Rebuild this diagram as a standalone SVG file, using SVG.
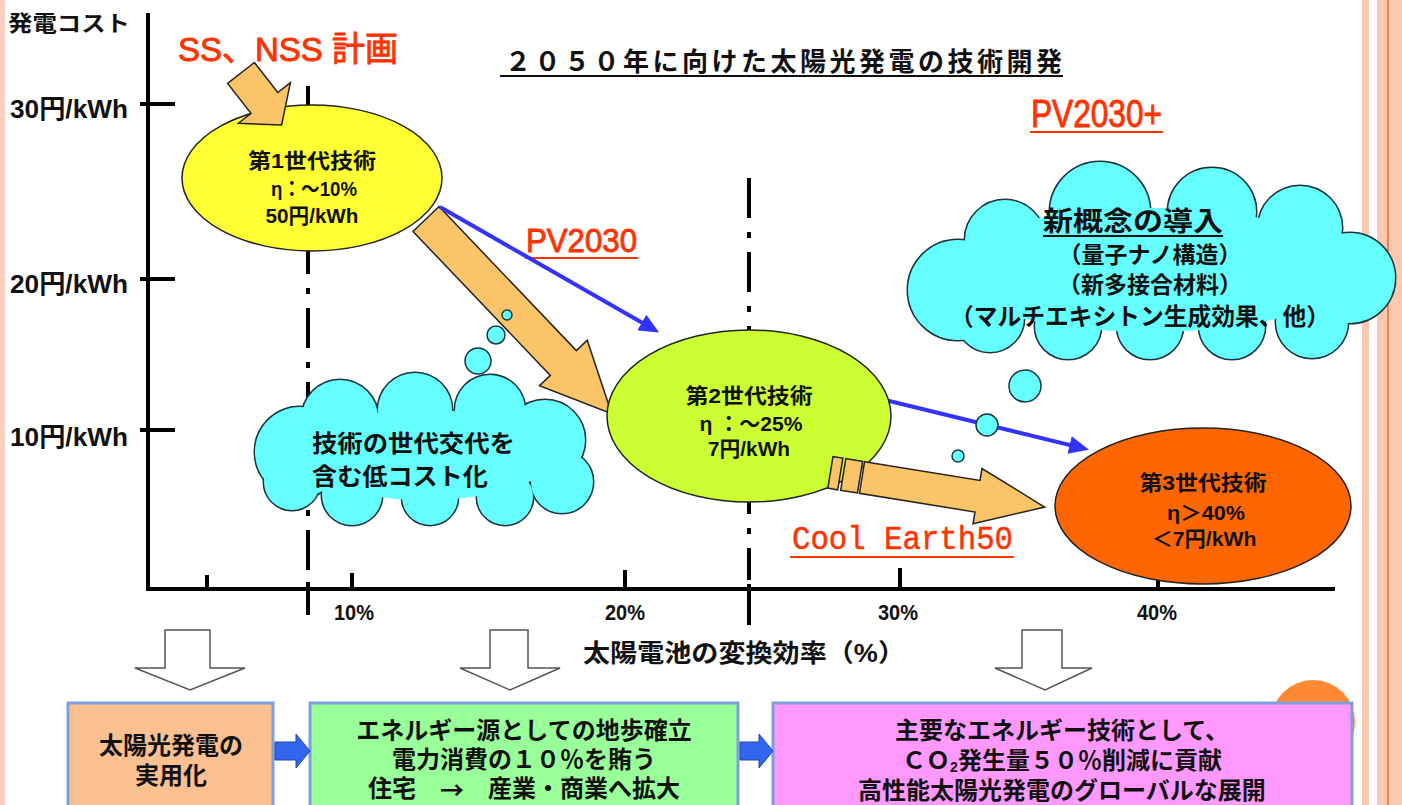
<svg xmlns="http://www.w3.org/2000/svg" width="1402" height="805" viewBox="0 0 1402 805">
<defs>
<style>
.t{font-family:"Liberation Sans","Noto Sans CJK JP","Noto Sans CJK SC",sans-serif;font-weight:bold;fill:#111;dominant-baseline:central;text-anchor:middle}
.l{font-family:"Liberation Sans","Noto Sans CJK JP","Noto Sans CJK SC",sans-serif;font-weight:bold;fill:#111;dominant-baseline:central}
.r{font-family:"Liberation Sans","Noto Sans CJK JP","Noto Sans CJK SC",sans-serif;fill:#ff3300;stroke:#ff3300;stroke-width:0.9;dominant-baseline:central}
.m{font-family:"Liberation Mono",monospace;fill:#ff3300;stroke:#ff3300;stroke-width:0.5;dominant-baseline:central}
.ul{stroke:#ff3300;stroke-width:2}
.ax{stroke:#000;stroke-width:4;fill:none}
.dd{stroke:#000;stroke-width:4;stroke-dasharray:40 14 6 14;fill:none}
.cs{fill:#66ffff;stroke:#1c3440;stroke-width:3}
.cf{fill:#66ffff}
.bub{fill:#66ffff;stroke:#1c3440;stroke-width:1.5}
.oa{fill:#fcc468;stroke:#222;stroke-width:1.5}
.el{stroke:#222;stroke-width:1.5}
.blue{stroke:#3333ff;stroke-width:4;fill:none}
.box{stroke:#7f9fd8;stroke-width:3}
.down{fill:#fff;stroke:#555;stroke-width:1.5}
.ba{fill:#3366ee;stroke:#2244aa;stroke-width:1}
.cjk{font-family:"Noto Sans CJK JP",sans-serif}
</style>
<marker id="bh" markerUnits="userSpaceOnUse" markerWidth="20" markerHeight="18" viewBox="0 0 20 18" refX="9" refY="9" orient="auto">
<path d="M0,0 L20,9 L0,18 z" fill="#3333ff"/>
</marker>
</defs>
<rect width="1402" height="805" fill="#fff"/>
<!-- page borders -->
<rect x="0" y="0" width="5" height="805" fill="#fbd0c0"/>
<rect x="1362" y="0" width="7" height="805" fill="#fbc8b0"/>
<rect x="1377" y="0" width="25" height="805" fill="#fbc8b0"/>
<line x1="1388" y1="0" x2="1388" y2="805" stroke="#f08050" stroke-width="2"/>

<!-- axes -->
<g id="axes">
<line class="ax" x1="148" y1="13" x2="148" y2="591"/>
<line class="ax" x1="146" y1="589" x2="1335" y2="589"/>
<line class="ax" x1="140" y1="104" x2="175" y2="104"/>
<line class="ax" x1="140" y1="279" x2="175" y2="279"/>
<line class="ax" x1="140" y1="430" x2="175" y2="430"/>
<line class="ax" x1="207" y1="575" x2="207" y2="589"/>
<line class="ax" x1="352" y1="573" x2="352" y2="589"/>
<line class="ax" x1="625" y1="570" x2="625" y2="589"/>
<line class="ax" x1="900" y1="568" x2="900" y2="589"/>
<line class="ax" x1="1158" y1="578" x2="1158" y2="589"/>
<line class="dd" x1="308" y1="86" x2="308" y2="580"/>
<line class="ax" x1="308" y1="582" x2="308" y2="615"/>
<line class="dd" x1="749" y1="178" x2="749" y2="580"/>
<line class="ax" x1="749" y1="584" x2="749" y2="625"/>
<text class="l" x="8" y="23" font-size="22" textLength="122" lengthAdjust="spacingAndGlyphs">発電コスト</text>
<text class="l" x="10" y="109" font-size="26" textLength="118" lengthAdjust="spacingAndGlyphs">30円/kWh</text>
<text class="l" x="10" y="284" font-size="26" textLength="118" lengthAdjust="spacingAndGlyphs">20円/kWh</text>
<text class="l" x="10" y="437" font-size="26" textLength="118" lengthAdjust="spacingAndGlyphs">10円/kWh</text>
<text class="t" x="354" y="612" font-size="22" textLength="40" lengthAdjust="spacingAndGlyphs">10%</text>
<text class="t" x="625" y="612" font-size="22" textLength="40" lengthAdjust="spacingAndGlyphs">20%</text>
<text class="t" x="898" y="612" font-size="22" textLength="40" lengthAdjust="spacingAndGlyphs">30%</text>
<text class="t" x="1157" y="612" font-size="22" textLength="40" lengthAdjust="spacingAndGlyphs">40%</text>
<text class="l" x="583" y="653" font-size="25" textLength="322" lengthAdjust="spacingAndGlyphs">太陽電池の変換効率（%）</text>
</g>

<!-- title and labels -->
<g id="title">
<text class="l" x="505" y="62" font-size="26" textLength="557">２０５０年に向けた太陽光発電の技術開発</text>
<line x1="500" y1="76" x2="1063" y2="76" stroke="#111" stroke-width="2"/>
</g>
<g id="label-ss">
<text class="r" x="178" y="49" font-size="34" textLength="220" lengthAdjust="spacingAndGlyphs">SS、NSS 計画</text>
</g>
<g id="label-pv2030plus">
<text class="r" x="1031" y="114" font-size="38" textLength="131" lengthAdjust="spacingAndGlyphs">PV2030+</text>
<line class="ul" x1="1030" y1="132" x2="1163" y2="132"/>
</g>
<g id="label-pv2030">
<text class="r" x="526" y="240" font-size="34" textLength="111" lengthAdjust="spacingAndGlyphs">PV2030</text>
<line class="ul" x1="525" y1="258" x2="638" y2="258"/>
</g>
<g id="label-coolearth">
<text class="m" x="792" y="540" font-size="34" textLength="221" lengthAdjust="spacingAndGlyphs">Cool Earth50</text>
<line class="ul" x1="790" y1="557" x2="1014" y2="557"/>
</g>

<!-- connectors -->
<g id="connectors">
<polygon class="oa" transform="translate(426,219) rotate(46.35)" points="0,-18 199,-18 199,-33 269,0 199,33 199,18 0,18"/>
<line class="blue" x1="440" y1="207" x2="649.6" y2="327" marker-end="url(#bh)"/>
<line class="blue" x1="877" y1="398" x2="1078.3" y2="447.1" marker-end="url(#bh)"/>
</g>

<!-- cloud 1 -->
<g id="cloud-lowcost">
<circle class="cs" cx="300" cy="452" r="45"/>
<circle class="cs" cx="340" cy="418" r="38"/>
<circle class="cs" cx="415" cy="410" r="37"/>
<circle class="cs" cx="490" cy="410" r="35"/>
<circle class="cs" cx="545" cy="440" r="40"/>
<circle class="cs" cx="562" cy="482" r="31"/>
<circle class="cs" cx="505" cy="497" r="28"/>
<circle class="cs" cx="430" cy="497" r="28"/>
<circle class="cs" cx="352" cy="495" r="30"/>
<circle class="cs" cx="292" cy="482" r="28"/>
<circle class="cf" cx="300" cy="452" r="45"/>
<circle class="cf" cx="340" cy="418" r="38"/>
<circle class="cf" cx="415" cy="410" r="37"/>
<circle class="cf" cx="490" cy="410" r="35"/>
<circle class="cf" cx="545" cy="440" r="40"/>
<circle class="cf" cx="562" cy="482" r="31"/>
<circle class="cf" cx="505" cy="497" r="28"/>
<circle class="cf" cx="430" cy="497" r="28"/>
<circle class="cf" cx="352" cy="495" r="30"/>
<circle class="cf" cx="292" cy="482" r="28"/>
<ellipse class="cf" cx="425" cy="455" rx="130" ry="45"/>
<text class="l" x="312" y="443" font-size="24" textLength="203" lengthAdjust="spacingAndGlyphs">技術の世代交代を</text>
<text class="l" x="312" y="476" font-size="24" textLength="176" lengthAdjust="spacingAndGlyphs">含む低コスト化</text>
<circle class="bub" cx="478" cy="361" r="13"/>
<circle class="bub" cx="496" cy="335" r="9"/>
<circle class="bub" cx="507" cy="315" r="5"/>
</g>

<!-- cloud 2 -->
<g id="cloud-newconcept">
<circle class="cs" cx="958" cy="290" r="50"/>
<circle class="cs" cx="1005" cy="240" r="40"/>
<circle class="cs" cx="1100" cy="212" r="50"/>
<circle class="cs" cx="1212" cy="212" r="44"/>
<circle class="cs" cx="1300" cy="228" r="42"/>
<circle class="cs" cx="1350" cy="278" r="45"/>
<circle class="cs" cx="1312" cy="322" r="36"/>
<circle class="cs" cx="1232" cy="326" r="33"/>
<circle class="cs" cx="1150" cy="326" r="33"/>
<circle class="cs" cx="1068" cy="326" r="33"/>
<circle class="cs" cx="990" cy="318" r="34"/>
<circle class="cf" cx="958" cy="290" r="50"/>
<circle class="cf" cx="1005" cy="240" r="40"/>
<circle class="cf" cx="1100" cy="212" r="50"/>
<circle class="cf" cx="1212" cy="212" r="44"/>
<circle class="cf" cx="1300" cy="228" r="42"/>
<circle class="cf" cx="1350" cy="278" r="45"/>
<circle class="cf" cx="1312" cy="322" r="36"/>
<circle class="cf" cx="1232" cy="326" r="33"/>
<circle class="cf" cx="1150" cy="326" r="33"/>
<circle class="cf" cx="1068" cy="326" r="33"/>
<circle class="cf" cx="990" cy="318" r="34"/>
<ellipse class="cf" cx="1150" cy="270" rx="205" ry="62"/>
<text class="t" x="1133" y="222" font-size="27" textLength="180" lengthAdjust="spacingAndGlyphs">新概念の導入</text>
<line x1="1043" y1="236" x2="1223" y2="236" stroke="#111" stroke-width="2"/>
<text class="t" x="1150" y="255" font-size="23">（量子ナノ構造）</text>
<text class="t" x="1150" y="285" font-size="23">（新多接合材料）</text>
<text class="t" x="1140" y="316" font-size="24" textLength="380" lengthAdjust="spacingAndGlyphs">（マルチエキシトン生成効果、他）</text>
<circle class="bub" cx="1025" cy="386" r="16"/>
<circle class="bub" cx="987" cy="425" r="11"/>
<circle class="bub" cx="958" cy="456" r="6"/>
</g>

<!-- generation 1 -->
<g id="gen1">
<ellipse class="el" cx="312" cy="178" rx="130" ry="73" fill="#ffff33"/>
<text class="t" x="312" y="160" font-size="21" textLength="128" lengthAdjust="spacingAndGlyphs">第1世代技術</text>
<text class="t" x="314" y="188" font-size="21" textLength="86" lengthAdjust="spacingAndGlyphs">η：～10%</text>
<text class="t" x="312" y="215" font-size="21" textLength="93" lengthAdjust="spacingAndGlyphs">50円/kWh</text>
</g>
<g id="arrow-ss">
<polygon class="oa" transform="translate(241,73) rotate(52)" points="0,-17 38,-17 38,-33 66,0 38,33 38,17 0,17"/>
</g>

<!-- generation 2 -->
<g id="gen2">
<ellipse class="el" cx="749" cy="416" rx="142" ry="86" fill="#ccff33"/>
<text class="t" x="749" y="395" font-size="21" textLength="127" lengthAdjust="spacingAndGlyphs">第2世代技術</text>
<text class="t" x="751" y="423" font-size="21" textLength="103" lengthAdjust="spacingAndGlyphs">η ：～25%</text>
<text class="t" x="749" y="448" font-size="21" textLength="82" lengthAdjust="spacingAndGlyphs">7円/kWh</text>
</g>
<g id="arrow-coolearth">
<g transform="translate(862,477.5) rotate(9.2)">
<rect class="oa" x="-32" y="-16" width="10" height="32"/>
<rect class="oa" x="-19" y="-16" width="17" height="32"/>
<polygon class="oa" points="0,-16 117,-16 117,-28 185,0 117,28 117,16 0,16"/>
</g>
</g>

<!-- generation 3 -->
<g id="gen3">
<ellipse class="el" cx="1203" cy="506" rx="148" ry="78" fill="#ff6600"/>
<text class="t" x="1203" y="482" font-size="21" textLength="127" lengthAdjust="spacingAndGlyphs">第3世代技術</text>
<text class="t" x="1206" y="512" font-size="21" textLength="78" lengthAdjust="spacingAndGlyphs">η＞40%</text>
<text class="t" x="1204" y="538" font-size="21" textLength="105" lengthAdjust="spacingAndGlyphs">＜7円/kWh</text>
</g>

<!-- bottom -->
<g id="down-arrows">
<path class="down" d="M165,630 H210 V668 H245 L190,690 L135,668 H165 Z"/>
<path class="down" d="M490,630 H528 V668 H560 L510,690 L460,668 H490 Z"/>
<path class="down" d="M1022,630 H1062 V668 H1092 L1045,690 L995,668 H1022 Z"/>
</g>
<circle cx="1313" cy="722" r="42" fill="#ff8833"/>
<g id="box1">
<rect class="box" x="68" y="703" width="205" height="110" fill="#fac090"/>
<text class="t" x="171" y="745" font-size="24">太陽光発電の</text>
<text class="t" x="171" y="775" font-size="24">実用化</text>
</g>
<g id="box2">
<rect class="box" x="310" y="703" width="428" height="110" fill="#99ff99"/>
<text class="t" x="524" y="730" font-size="24">エネルギー源としての地歩確立</text>
<text class="t" x="524" y="759" font-size="24">電力消費の１０％を賄う</text>
<text class="t" x="524" y="788" font-size="24">住宅　<tspan class="cjk">→</tspan>　産業・商業へ拡大</text>
</g>
<g id="box3">
<rect class="box" x="773" y="703" width="579" height="110" fill="#ff99ff"/>
<text class="t" x="1062" y="730" font-size="24">主要なエネルギー技術として、</text>
<text class="t" x="1062" y="760" font-size="24">ＣＯ<tspan font-size="14" dy="7">2</tspan><tspan dy="-7">発生量５０％削減に貢献</tspan></text>
<text class="t" x="1062" y="790" font-size="24">高性能太陽光発電のグローバルな展開</text>
</g>
<g id="flow-arrows">
<path class="ba" d="M275,742 H296 V734 L310,751 L296,768 V760 H275 Z"/>
<path class="ba" d="M740,742 H759 V734 L773,751 L759,768 V760 H740 Z"/>
</g>
</svg>
